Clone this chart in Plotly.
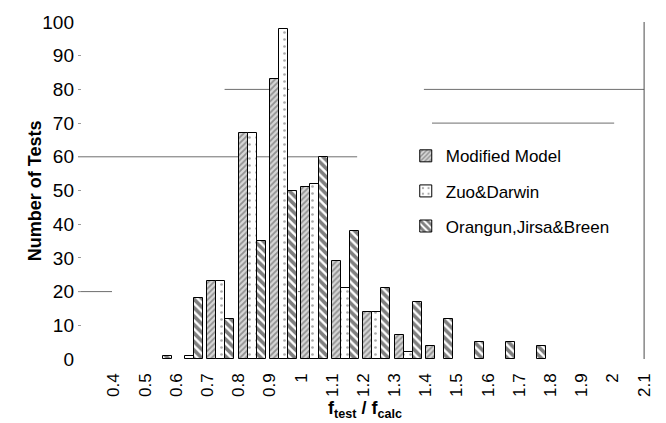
import plotly.graph_objects as go

# Histogram bins (label of each bin) and number of tests per model
bins = [0.4, 0.5, 0.6, 0.7, 0.8, 0.9, 1.0, 1.1, 1.2, 1.3, 1.4, 1.5, 1.6, 1.7, 1.8, 1.9, 2.0, 2.1]
modified_model = [0, 0, 0, 23, 67, 83, 51, 29, 14, 7, 4, 0, 0, 0, 0, 0, 0, 0]
zuo_darwin = [0, 0, 1, 23, 67, 98, 52, 21, 14, 2, 0, 0, 0, 0, 0, 0, 0, 0]
orangun_jirsa_breen = [0, 1, 18, 12, 35, 50, 60, 38, 21, 17, 12, 5, 5, 4, 0, 0, 0, 0]
tick_labels = ["0.4", "0.5", "0.6", "0.7", "0.8", "0.9", "1", "1.1", "1.2", "1.3",
               "1.4", "1.5", "1.6", "1.7", "1.8", "1.9", "2", "2.1"]

FONT = "Liberation Sans, Arial, sans-serif"
BAR_W = 0.0288

series = [
    ("Modified Model", modified_model,
     dict(shape="/", size=4, solidity=0.45, fgcolor="#4a4a4a", bgcolor="#d6d6d6")),
    ("Zuo&Darwin", zuo_darwin,
     dict(shape=".", size=7, solidity=0.12, fgcolor="#555555", bgcolor="#ffffff")),
    ("Orangun,Jirsa&Breen", orangun_jirsa_breen,
     dict(shape="\\", size=6, solidity=0.6, fgcolor="#000000", bgcolor="#ffffff")),
]

fig = go.Figure()
for i, (name, vals, pat) in enumerate(series):
    # empty bins are left blank rather than drawn as flat outlines
    heights = [v if v > 0 else None for v in vals]
    fig.add_trace(go.Bar(
        x=bins, y=heights, name=name, legendgroup=name,
        width=BAR_W, offset=i * BAR_W,
        marker=dict(color="#ffffff", pattern=pat,
                    line=dict(color="#000000", width=1)),
    ))

# leftover grid segments of the scanned chart frame
grid_segments = [
    (60, 0.285, 1.18), (80, 0.755, 0.962), (80, 1.394, 2.1),
    (70, 1.42, 2.004), (20, 0.285, 0.394), (20, 0.99, 1.005),
]
for yv, x0, x1 in grid_segments:
    fig.add_shape(type="line", xref="x", yref="y", x0=x0, x1=x1, y0=yv, y1=yv,
                  line=dict(color="#6e6e6e", width=1), layer="below")
fig.add_shape(type="line", xref="x", yref="y", x0=2.1, x1=2.1, y0=-0.3, y1=100,
              line=dict(color="#4a4a4a", width=1), layer="below")

fig.update_layout(
    width=666, height=423,
    margin=dict(l=78, r=16, t=18, b=64),
    paper_bgcolor="white", plot_bgcolor="white",
    font=dict(family=FONT, color="#000000"),
    showlegend=True,
    legend=dict(x=0.575, y=0.655, xanchor="left", yanchor="top",
                bgcolor="rgba(0,0,0,0)", font=dict(size=17, family=FONT),
                tracegroupgap=10, itemwidth=30),
    bargap=0,
)
fig.update_xaxes(
    range=[0.285, 2.1125], tickmode="array", tickvals=bins, ticktext=tick_labels,
    tickangle=-90, tickfont=dict(size=17, family=FONT), ticks="",
    showgrid=False, zeroline=False, showline=False, ticklabelstandoff=10,
)
fig.update_yaxes(
    range=[0, 100], dtick=10, tickfont=dict(size=19, family=FONT),
    ticks="inside", ticklen=3, tickcolor="#9a9a9a",
    showgrid=False, zeroline=False, showline=False, ticklabelstandoff=3,
)

fig.add_annotation(text="<b>Number of Tests</b>", xref="paper", yref="paper",
                   x=-0.097, y=0.5, textangle=-90, showarrow=False,
                   font=dict(size=18, family=FONT))
fig.add_annotation(text="<b>f<sub>test</sub> / f<sub>calc</sub></b>", xref="paper", yref="paper",
                   x=(366.5 - 78) / 572, y=0, yshift=-50, xanchor="center", yanchor="middle",
                   showarrow=False, font=dict(size=18, family=FONT))

fig.write_html("out.html")
